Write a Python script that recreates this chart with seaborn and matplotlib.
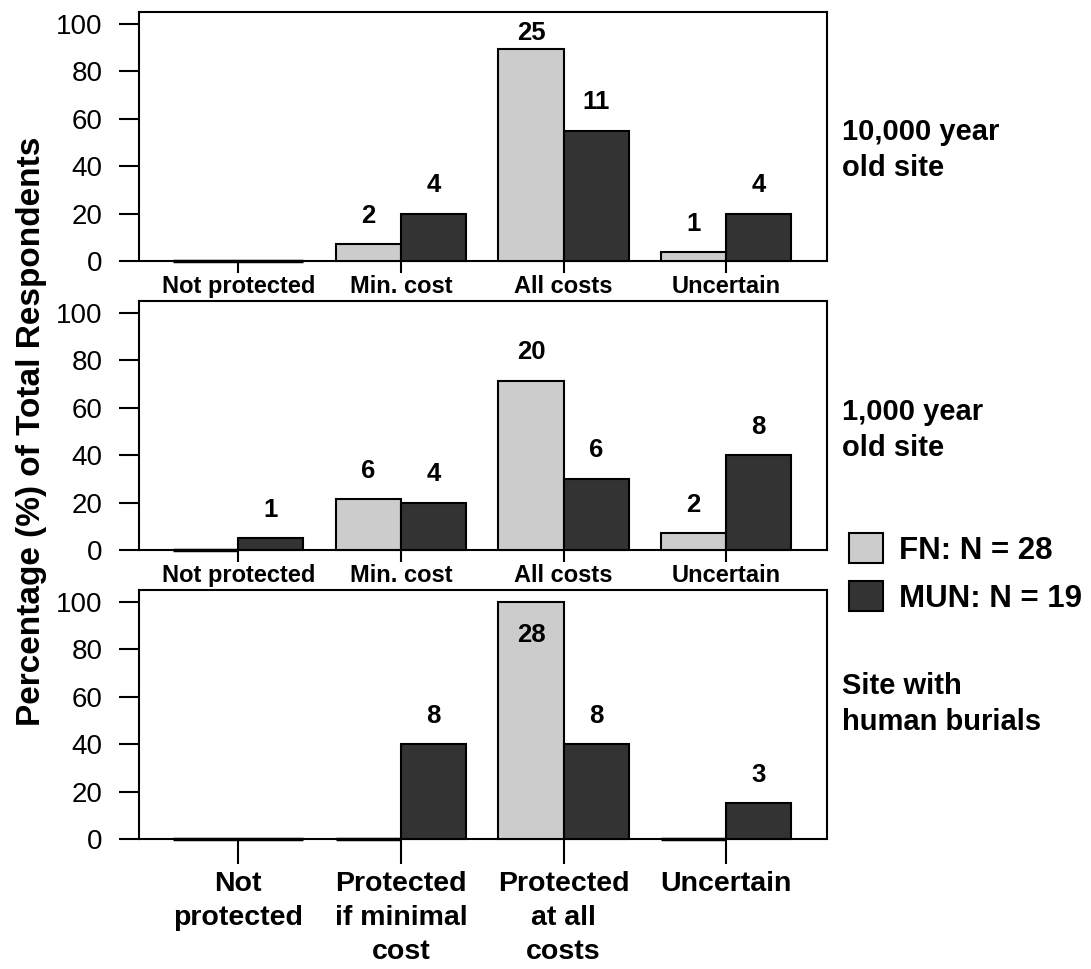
import numpy as np
import pandas as pd
import matplotlib
matplotlib.use("Agg")
import matplotlib.pyplot as plt
from matplotlib.patches import Patch
import seaborn as sns

# categories and groups
categories = ["Not protected", "Min. cost", "All costs", "Uncertain"]
categories_long = ["Not\nprotected", "Protected\nif minimal\ncost", "Protected\nat all\ncosts", "Uncertain"]
groups = ["FN: N = 28", "MUN: N = 19"]
site_titles = ["10,000 year\nold site", "1,000 year\nold site", "Site with\nhuman burials"]

# percentages, counts written above them
fn_pct_10000 = [0, 7.1, 89.3, 3.6]
mun_pct_10000 = [0, 20, 55, 20]
fn_n_10000 = ["", "2", "25", "1"]
mun_n_10000 = ["", "4", "11", "4"]

fn_pct_1000 = [0, 21.4, 71.4, 7.1]
mun_pct_1000 = [5, 20, 30, 40]
fn_n_1000 = ["", "6", "20", "2"]
mun_n_1000 = ["1", "4", "6", "8"]

fn_pct_burial = [0, 0, 100, 0]
mun_pct_burial = [0, 40, 40, 15]
fn_n_burial = ["", "", "28", ""]
mun_n_burial = ["", "8", "8", "3"]

panels = [
    (fn_pct_10000, mun_pct_10000, fn_n_10000, mun_n_10000),
    (fn_pct_1000, mun_pct_1000, fn_n_1000, mun_n_1000),
    (fn_pct_burial, mun_pct_burial, fn_n_burial, mun_n_burial),
]

colors = ["#cccccc", "#333333"]

sns.set_style("ticks")
plt.rcParams["font.family"] = ["Liberation Sans", "DejaVu Sans"]
plt.rcParams["text.color"] = "black"
plt.rcParams["xtick.color"] = "black"
plt.rcParams["ytick.color"] = "black"
plt.rcParams["axes.labelcolor"] = "black"

fig = plt.figure(figsize=(10.91, 9.69), dpi=100)

W, H = 1091, 969
left, right = 139, 827
bottoms = [261, 550, 839]
title_y = [150, 430, 704]
ax_h = 249

for k, (fn, mun, fn_n, mun_n) in enumerate(panels):
    ax = fig.add_axes([left / W, 1 - bottoms[k] / H, (right - left) / W, ax_h / H])
    df = pd.DataFrame({
        "cat": categories * 2,
        "pct": fn + mun,
        "group": [groups[0]] * 4 + [groups[1]] * 4,
    })
    sns.barplot(data=df, x="cat", y="pct", hue="group", order=categories,
                hue_order=groups, palette=colors, edgecolor="black",
                linewidth=1.5, width=0.8, ax=ax, legend=False)
    for p in ax.patches:
        p.set_clip_on(False)
        p.set_zorder(3)
        if p.get_height() == 0:
            p.set_linewidth(2.5)

    # count labels
    for j, (vals, labs, off) in enumerate([(fn, fn_n, -0.2), (mun, mun_n, 0.2)]):
        for i, (v, t) in enumerate(zip(vals, labs)):
            if not t:
                continue
            if v >= 100:
                y = v - 14
            else:
                y = min(v + 12, 96)
            ax.text(i + off, y, t, ha="center", va="center",
                    fontsize=18.5, fontweight="bold")

    ax.set_ylim(0, 105)
    ax.set_xlim(-0.61, 3.62)
    ax.set_yticks([0, 20, 40, 60, 80, 100])
    ax.set_xlabel("")
    ax.set_ylabel("")
    for sp in ax.spines.values():
        sp.set_visible(True)
        sp.set_linewidth(1.5)
        sp.set_color("black")
    ax.tick_params(axis="y", length=14.4, width=1.5, labelsize=20, pad=12)
    ax.set_xticks(range(4))
    if k < 2:
        ax.set_xticklabels(categories, fontsize=17, fontweight="bold")
        ax.tick_params(axis="x", length=8.6, width=1.5, pad=1.5)
    else:
        ax.set_xticklabels(categories_long, fontsize=20.5, fontweight="bold",
                           linespacing=1.4)
        ax.tick_params(axis="x", length=18, width=1.5, pad=5)

    fig.text(842 / W, 1 - title_y[k] / H, site_titles[k], ha="left",
             va="center", fontsize=21, fontweight="bold", linespacing=1.35)

fig.text(0.029, 1 - 431 / H, "Percentage (%) of Total Respondents", rotation=90,
         ha="center", va="center", fontsize=24, fontweight="bold")

handles = [Patch(facecolor=c, edgecolor="black", linewidth=1.5) for c in colors]
fig.legend(handles, groups, loc="upper left", bbox_to_anchor=(849 / W, 1 - 533 / H),
           frameon=False, borderpad=0, borderaxespad=0, handlelength=1.1,
           handleheight=1.1, handletextpad=0.5, labelspacing=0.5,
           prop={"size": 22.5, "weight": "bold"})

fig.savefig("out.png", dpi=100)
